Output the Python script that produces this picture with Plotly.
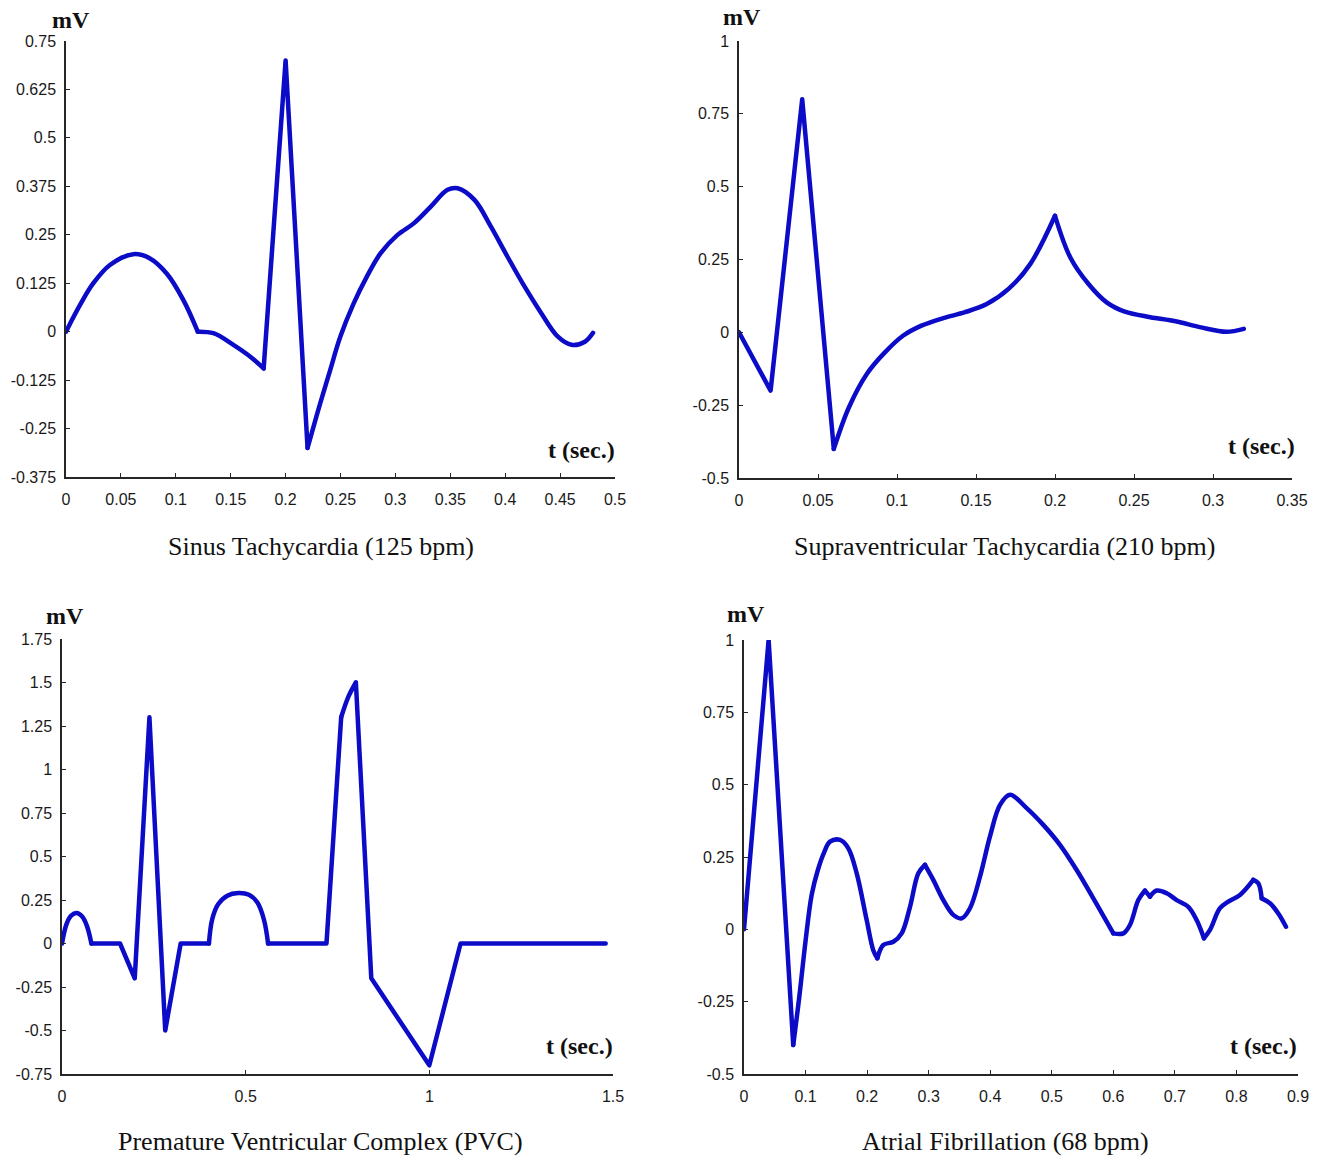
import plotly.graph_objects as go

W, H = 1322, 1157

# ---------------- data ----------------
# Sinus Tachycardia (125 bpm)
ST_T = [0, 0.0128, 0.0249, 0.04, 0.0613, 0.0765, 0.0917, 0.1068, 0.12,
        0.1342, 0.1524, 0.1676, 0.18, 0.2, 0.22,
        0.2315, 0.2406, 0.2498, 0.262, 0.274, 0.2864, 0.3017, 0.317, 0.332,
        0.3475, 0.3567, 0.372, 0.387, 0.402, 0.4177, 0.433, 0.448, 0.4604,
        0.4726, 0.48]
ST_V = [0, 0.069, 0.125, 0.172, 0.2, 0.189, 0.15, 0.082, 0,
        -0.004, -0.034, -0.064, -0.095, 0.7, -0.3,
        -0.185, -0.099, -0.013, 0.073, 0.142, 0.202, 0.249, 0.28, 0.322,
        0.366, 0.37, 0.34, 0.271, 0.194, 0.116, 0.047, -0.013, -0.034,
        -0.026, -0.003]
ST_KINKS = [0.12, 0.18, 0.2, 0.22]

# Supraventricular Tachycardia (210 bpm)
SVT_T = [0, 0.02, 0.04, 0.06, 0.0696, 0.081, 0.0925, 0.104, 0.1155, 0.1293,
         0.143, 0.1568, 0.1706, 0.1844, 0.2, 0.2097, 0.2212, 0.2327, 0.2442,
         0.2603, 0.2763, 0.2924, 0.3085, 0.3195]
SVT_V = [0, -0.2, 0.8, -0.4, -0.257, -0.142, -0.068, -0.011, 0.023, 0.049,
         0.069, 0.097, 0.149, 0.235, 0.4, 0.257, 0.166, 0.103, 0.071,
         0.052, 0.038, 0.017, 0.002, 0.012]
SVT_KINKS = [0.02, 0.04, 0.06, 0.2]

# Premature Ventricular Complex (PVC)
PVC_T = [0, 0.012, 0.025, 0.04, 0.055, 0.068, 0.08, 0.158, 0.198, 0.238,
         0.281, 0.323, 0.4, 0.409, 0.425, 0.45, 0.48, 0.509, 0.532, 0.55,
         0.561, 0.72, 0.76, 0.78, 0.8, 0.842, 1.0, 1.085, 1.48]
PVC_V = [0, 0.11, 0.16, 0.175, 0.155, 0.1, 0, 0, -0.2, 1.3,
         -0.5, 0, 0, 0.14, 0.225, 0.275, 0.29, 0.28, 0.235, 0.135,
         0, 0, 1.3, 1.42, 1.5, -0.2, -0.7, 0, 0]
PVC_KINKS = [0.08, 0.158, 0.198, 0.238, 0.281, 0.323, 0.4, 0.561, 0.72,
             0.76, 0.8, 0.842, 1.0, 1.085]

# Atrial Fibrillation (68 bpm)
AF_T = [0, 0.04, 0.08, 0.09, 0.1, 0.11, 0.12, 0.13, 0.1397, 0.156, 0.1695,
        0.183, 0.1993, 0.21, 0.2166, 0.2263, 0.2426, 0.2561, 0.2697, 0.2832,
        0.294, 0.3075, 0.3238, 0.34, 0.3536, 0.3671, 0.3834, 0.3996, 0.4159,
        0.4321, 0.4592, 0.4862, 0.5133, 0.5404, 0.5675, 0.6, 0.6162, 0.627,
        0.6406, 0.6514, 0.6595, 0.6704, 0.6866, 0.7029, 0.7218, 0.7353,
        0.7472, 0.757, 0.7732, 0.7868, 0.8057, 0.8274, 0.8355, 0.841, 0.8545,
        0.868, 0.8805]
AF_V = [0, 1.0, -0.4, -0.23, -0.04, 0.12, 0.205, 0.265, 0.303, 0.309, 0.28,
        0.194, 0.032, -0.072, -0.1, -0.054, -0.043, -0.014, 0.078, 0.194,
        0.223, 0.171, 0.101, 0.05, 0.038, 0.073, 0.182, 0.321, 0.43,
        0.465, 0.419, 0.361, 0.292, 0.205, 0.107, -0.014, -0.014, 0.015,
        0.101, 0.134, 0.113, 0.134, 0.125, 0.101, 0.078, 0.032,
        -0.031, -0.002, 0.073, 0.096, 0.119, 0.171, 0.159, 0.107, 0.09,
        0.055, 0.009]
AF_KINKS = [0.04, 0.08, 0.2166, 0.294, 0.6, 0.6514, 0.6595, 0.7472,
            0.8274, 0.841]

TITLES = ["Sinus Tachycardia (125 bpm)",
          "Supraventricular Tachycardia (210 bpm)",
          "Premature Ventricular Complex (PVC)",
          "Atrial Fibrillation (68 bpm)"]

ST_XTICKS = [0, 0.05, 0.1, 0.15, 0.2, 0.25, 0.3, 0.35, 0.4, 0.45, 0.5]
ST_XLABELS = ["0", "0.05", "0.1", "0.15", "0.2", "0.25", "0.3", "0.35", "0.4", "0.45", "0.5"]
ST_YTICKS = [-0.375, -0.25, -0.125, 0, 0.125, 0.25, 0.375, 0.5, 0.625, 0.75]
ST_YLABELS = ["-0.375", "-0.25", "-0.125", "0", "0.125", "0.25", "0.375", "0.5", "0.625", "0.75"]

SVT_XTICKS = [0, 0.05, 0.1, 0.15, 0.2, 0.25, 0.3, 0.35]
SVT_XLABELS = ["0", "0.05", "0.1", "0.15", "0.2", "0.25", "0.3", "0.35"]
SVT_YTICKS = [-0.5, -0.25, 0, 0.25, 0.5, 0.75, 1]
SVT_YLABELS = ["-0.5", "-0.25", "0", "0.25", "0.5", "0.75", "1"]

PVC_XTICKS = [0, 0.5, 1, 1.5]
PVC_XLABELS = ["0", "0.5", "1", "1.5"]
PVC_YTICKS = [-0.75, -0.5, -0.25, 0, 0.25, 0.5, 0.75, 1, 1.25, 1.5, 1.75]
PVC_YLABELS = ["-0.75", "-0.5", "-0.25", "0", "0.25", "0.5", "0.75", "1", "1.25", "1.5", "1.75"]

AF_XTICKS = [0, 0.1, 0.2, 0.3, 0.4, 0.5, 0.6, 0.7, 0.8, 0.9]
AF_XLABELS = ["0", "0.1", "0.2", "0.3", "0.4", "0.5", "0.6", "0.7", "0.8", "0.9"]
AF_YTICKS = [-0.5, -0.25, 0, 0.25, 0.5, 0.75, 1]
AF_YLABELS = ["-0.5", "-0.25", "0", "0.25", "0.5", "0.75", "1"]

# ---------------- layout helpers ----------------
def fx(x):
    return x / W


def fy(y):
    return 1 - y / H


def pieces(t, v, kinks):
    idx = [0] + [min(range(len(t)), key=lambda i: abs(t[i] - k)) for k in kinks] + [len(t) - 1]
    idx = sorted(set(idx))
    merged = []
    for a, b in zip(idx[:-1], idx[1:]):
        st, sv = t[a:b + 1], v[a:b + 1]
        if len(st) == 2 and merged and merged[-1][2] == "linear":
            merged[-1][0].append(st[1])
            merged[-1][1].append(sv[1])
        else:
            merged.append([list(st), list(sv), "linear" if len(st) == 2 else "spline"])
    return merged


LINE_COLOR = "#0b0bc8"
AXIS_COLOR = "#262626"
TICK_FONT = dict(family="Liberation Sans, Arial, sans-serif", size=16, color="#1a1a1a")
LABEL_FONT = dict(family="Liberation Serif, Times New Roman, serif", size=24, color="#111111")
TITLE_FONT = dict(family="Liberation Serif, Times New Roman, serif", size=26, color="#111111")

panels = [
    dict(t=ST_T, v=ST_V, k=ST_KINKS, xr=[0, 0.5], yr=[-0.375, 0.75], box=(66, 615, 41, 477),
         xt=(ST_XTICKS, ST_XLABELS), yt=(ST_YTICKS, ST_YLABELS),
         mv=(71, 20), ts=(581, 450), title=(321, 546)),
    dict(t=SVT_T, v=SVT_V, k=SVT_KINKS, xr=[0, 0.35], yr=[-0.5, 1], box=(739, 1292, 41, 478),
         xt=(SVT_XTICKS, SVT_XLABELS), yt=(SVT_YTICKS, SVT_YLABELS),
         mv=(742, 17), ts=(1261, 446), title=(1004, 546)),
    dict(t=PVC_T, v=PVC_V, k=PVC_KINKS, xr=[0, 1.5], yr=[-0.75, 1.75], box=(62, 613, 639, 1074),
         xt=(PVC_XTICKS, PVC_XLABELS), yt=(PVC_YTICKS, PVC_YLABELS),
         mv=(65, 616), ts=(579, 1046), title=(320, 1141)),
    dict(t=AF_T, v=AF_V, k=AF_KINKS, xr=[0, 0.9], yr=[-0.5, 1], box=(744, 1298, 640, 1074),
         xt=(AF_XTICKS, AF_XLABELS), yt=(AF_YTICKS, AF_YLABELS),
         mv=(746, 614), ts=(1263, 1046), title=(1005, 1141)),
]

fig = go.Figure()
annotations = []
layout_axes = {}

for i, p in enumerate(panels, start=1):
    xa = "x" if i == 1 else f"x{i}"
    ya = "y" if i == 1 else f"y{i}"
    for st, sv, shape in pieces(p["t"], p["v"], p["k"]):
        fig.add_trace(go.Scatter(
            x=st, y=sv, mode="lines", xaxis=xa, yaxis=ya, showlegend=False,
            hoverinfo="skip",
            line=dict(color=LINE_COLOR, width=4.5, shape=shape, smoothing=1.0),
        ))
    l, r, t, b = p["box"]
    xkey = "xaxis" if i == 1 else f"xaxis{i}"
    ykey = "yaxis" if i == 1 else f"yaxis{i}"
    layout_axes[xkey] = dict(
        domain=[fx(l), fx(r)], anchor=ya, range=p["xr"], showgrid=False, zeroline=False,
        showline=True, linecolor=AXIS_COLOR, linewidth=1.5, mirror=False,
        ticks="inside", ticklen=4, tickwidth=1, tickcolor=AXIS_COLOR,
        tickvals=p["xt"][0], ticktext=p["xt"][1], tickfont=TICK_FONT,
        ticklabelstandoff=7, automargin=False,
    )
    layout_axes[ykey] = dict(
        domain=[fy(b), fy(t)], anchor=xa, range=p["yr"], showgrid=False, zeroline=False,
        showline=True, linecolor=AXIS_COLOR, linewidth=1.5, mirror=False,
        ticks="inside", ticklen=4, tickwidth=1, tickcolor=AXIS_COLOR,
        tickvals=p["yt"][0], ticktext=p["yt"][1], tickfont=TICK_FONT,
        ticklabelstandoff=5, automargin=False,
    )
    annotations.append(dict(text="<b>mV</b>", x=fx(p["mv"][0]), y=fy(p["mv"][1]),
                            xref="paper", yref="paper", showarrow=False,
                            xanchor="center", yanchor="middle", font=LABEL_FONT))
    annotations.append(dict(text="<b>t (sec.)</b>", x=fx(p["ts"][0]), y=fy(p["ts"][1]),
                            xref="paper", yref="paper", showarrow=False,
                            xanchor="center", yanchor="middle", font=LABEL_FONT))
    annotations.append(dict(text=TITLES[i - 1], x=fx(p["title"][0]), y=fy(p["title"][1]),
                            xref="paper", yref="paper", showarrow=False,
                            xanchor="center", yanchor="middle", font=TITLE_FONT))

fig.update_layout(
    width=W, height=H, margin=dict(l=0, r=0, t=0, b=0, autoexpand=False),
    paper_bgcolor="white", plot_bgcolor="white",
    annotations=annotations, showlegend=False,
    **layout_axes,
)

post = ("document.documentElement.style.margin='0';document.body.style.margin='0';"
        "document.querySelectorAll('path.js-line').forEach(function(p){"
        "p.style.strokeLinejoin='round';p.style.strokeLinecap='round';});")

fig.write_html("out.html", config={"displayModeBar": False}, post_script=post)
